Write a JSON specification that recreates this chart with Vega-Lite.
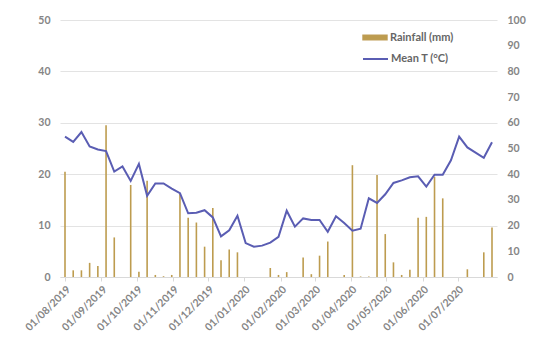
{
  "$schema": "https://vega.github.io/schema/vega-lite/v6.json",
  "width": 437,
  "height": 257,
  "autosize": {"type": "none"},
  "padding": {"left": 60, "top": 20, "right": 53, "bottom": 74},
  "background": "white",
  "config": {
    "view": {"stroke": null},
    "font": "Lato",
    "axis": {"labelFont": "Lato", "labelColor": "#858585", "labelFontSize": 10.5, "labelFontWeight": "bold", "title": null},
    "legend": {"labelFont": "Lato", "labelColor": "#666666", "labelFontSize": 11, "labelFontWeight": "bold"}
  },
  "data": {"values": [
    {"date": "2019-08-01T00:00", "rain": 41.0, "temp": 27.3},
    {"date": "2019-08-08T00:00", "rain": 2.6, "temp": 26.3},
    {"date": "2019-08-15T00:00", "rain": 2.6, "temp": 28.2},
    {"date": "2019-08-22T00:00", "rain": 5.5, "temp": 25.4},
    {"date": "2019-08-29T00:00", "rain": 4.3, "temp": 24.8},
    {"date": "2019-09-05T00:00", "rain": 59.0, "temp": 24.5},
    {"date": "2019-09-12T00:00", "rain": 15.4, "temp": 20.5},
    {"date": "2019-09-19T00:00", "rain": 0, "temp": 21.5},
    {"date": "2019-09-26T00:00", "rain": 35.8, "temp": 18.7},
    {"date": "2019-10-03T00:00", "rain": 2.0, "temp": 22.0},
    {"date": "2019-10-10T00:00", "rain": 37.5, "temp": 15.8},
    {"date": "2019-10-17T00:00", "rain": 0.8, "temp": 18.2},
    {"date": "2019-10-24T00:00", "rain": 0.3, "temp": 18.2},
    {"date": "2019-10-31T00:00", "rain": 0.8, "temp": 17.2},
    {"date": "2019-11-07T00:00", "rain": 32.5, "temp": 16.3},
    {"date": "2019-11-14T00:00", "rain": 23.1, "temp": 12.4},
    {"date": "2019-11-21T00:00", "rain": 21.2, "temp": 12.5},
    {"date": "2019-11-28T00:00", "rain": 11.8, "temp": 13.0},
    {"date": "2019-12-05T00:00", "rain": 26.8, "temp": 11.6},
    {"date": "2019-12-12T00:00", "rain": 6.5, "temp": 7.9},
    {"date": "2019-12-19T00:00", "rain": 10.7, "temp": 9.1},
    {"date": "2019-12-26T00:00", "rain": 9.6, "temp": 11.9},
    {"date": "2020-01-02T00:00", "rain": 0, "temp": 6.6},
    {"date": "2020-01-09T00:00", "rain": 0, "temp": 5.9},
    {"date": "2020-01-16T00:00", "rain": 0, "temp": 6.1},
    {"date": "2020-01-23T00:00", "rain": 3.5, "temp": 6.7},
    {"date": "2020-01-30T00:00", "rain": 0.8, "temp": 7.8},
    {"date": "2020-02-06T00:00", "rain": 1.9, "temp": 12.9},
    {"date": "2020-02-13T00:00", "rain": 0, "temp": 9.8},
    {"date": "2020-02-20T00:00", "rain": 7.6, "temp": 11.4},
    {"date": "2020-02-27T00:00", "rain": 1.1, "temp": 11.1},
    {"date": "2020-03-05T00:00", "rain": 8.3, "temp": 11.1},
    {"date": "2020-03-12T00:00", "rain": 13.8, "temp": 8.8},
    {"date": "2020-03-19T00:00", "rain": 0, "temp": 11.8},
    {"date": "2020-03-26T00:00", "rain": 0.8, "temp": 10.5},
    {"date": "2020-04-02T00:00", "rain": 43.5, "temp": 9.0},
    {"date": "2020-04-09T00:00", "rain": 0.2, "temp": 9.4},
    {"date": "2020-04-16T00:00", "rain": 0.2, "temp": 15.3},
    {"date": "2020-04-23T00:00", "rain": 39.7, "temp": 14.4},
    {"date": "2020-04-30T00:00", "rain": 16.7, "temp": 16.1},
    {"date": "2020-05-07T00:00", "rain": 5.7, "temp": 18.3},
    {"date": "2020-05-14T00:00", "rain": 0.8, "temp": 18.8},
    {"date": "2020-05-21T00:00", "rain": 2.8, "temp": 19.4},
    {"date": "2020-05-28T00:00", "rain": 23.1, "temp": 19.6},
    {"date": "2020-06-04T00:00", "rain": 23.4, "temp": 17.6},
    {"date": "2020-06-11T00:00", "rain": 39.0, "temp": 19.9},
    {"date": "2020-06-18T00:00", "rain": 30.6, "temp": 19.9},
    {"date": "2020-06-25T00:00", "rain": 0, "temp": 22.7},
    {"date": "2020-07-02T00:00", "rain": 0, "temp": 27.3},
    {"date": "2020-07-09T00:00", "rain": 3.0, "temp": 25.2},
    {"date": "2020-07-16T00:00", "rain": 0, "temp": 24.2},
    {"date": "2020-07-23T00:00", "rain": 9.6, "temp": 23.2},
    {"date": "2020-07-30T00:00", "rain": 19.3, "temp": 26.2}
  ]},
  "encoding": {
    "x": {
      "field": "date",
      "type": "temporal",
      "scale": {"domain": [{"year": 2019, "month": 8, "date": 1}, {"year": 2020, "month": 7, "date": 30}]},
      "axis": {
        "values": [
          {"year": 2019, "month": 8, "date": 1},
          {"year": 2019, "month": 9, "date": 1},
          {"year": 2019, "month": 10, "date": 1},
          {"year": 2019, "month": 11, "date": 1},
          {"year": 2019, "month": 12, "date": 1},
          {"year": 2020, "month": 1, "date": 1},
          {"year": 2020, "month": 2, "date": 1},
          {"year": 2020, "month": 3, "date": 1},
          {"year": 2020, "month": 4, "date": 1},
          {"year": 2020, "month": 5, "date": 1},
          {"year": 2020, "month": 6, "date": 1},
          {"year": 2020, "month": 7, "date": 1}
        ],
        "format": "%d/%m/%Y",
        "labelAngle": -45,
        "labelAlign": "right",
        "labelBaseline": "top",
        "labelPadding": 3,
        "tickSize": 4,
        "tickColor": "#d9d9d9",
        "domainColor": "#d9d9d9",
        "grid": false,
        "labelOverlap": false
      }
    }
  },
  "layer": [
    {
      "mark": {"type": "bar", "width": 1.6},
      "encoding": {
        "y": {
          "field": "rain",
          "type": "quantitative",
          "scale": {"domain": [0, 100]},
          "axis": {"orient": "right", "values": [0, 10, 20, 30, 40, 50, 60, 70, 80, 90, 100], "grid": false, "ticks": false, "domain": false, "labelPadding": 10}
        },
        "fill": {
          "datum": "Rainfall (mm)",
          "scale": {"range": ["#bd9c4f"]},
          "legend": {
            "orient": "none", "legendX": 302, "legendY": 4.5, "title": null,
            "symbolType": "M-1,-0.22H1V0.22H-1Z", "symbolSize": 625,
            "symbolFillColor": "#d2b27c",
            "symbolStrokeColor": "#c4a468", "symbolStrokeWidth": 0.5,
            "labelOffset": 2, "padding": 0
          }
        }
      }
    },
    {
      "mark": {"type": "line", "strokeWidth": 2},
      "encoding": {
        "y": {
          "field": "temp",
          "type": "quantitative",
          "scale": {"domain": [0, 50]},
          "axis": {"orient": "left", "values": [0, 10, 20, 30, 40, 50], "grid": true, "gridColor": "#e3e3e3", "ticks": false, "domain": false, "labelPadding": 10}
        },
        "stroke": {
          "datum": "Mean T (°C)",
          "scale": {"range": ["#5a5db3"]},
          "legend": {
            "orient": "none", "legendX": 302, "legendY": 25.5, "title": null,
            "symbolType": "stroke", "symbolSize": 625, "symbolStrokeWidth": 2,
            "labelOffset": 2, "padding": 0
          }
        }
      }
    }
  ],
  "resolve": {"scale": {"y": "independent", "fill": "independent", "stroke": "independent"}}
}
